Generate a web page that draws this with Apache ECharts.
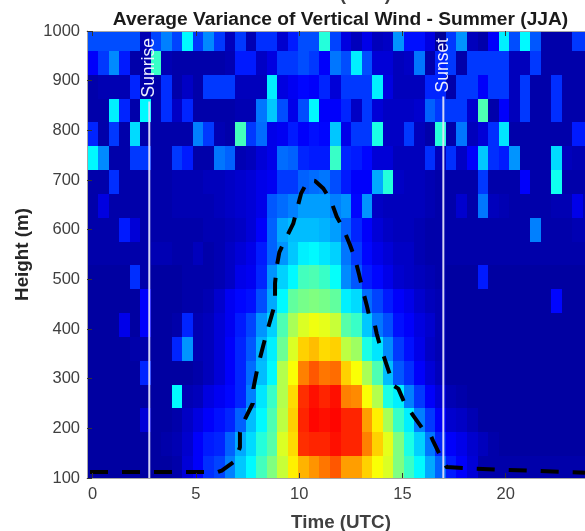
<!DOCTYPE html>
<html>
<head>
<meta charset="utf-8">
<style>
  html, body { margin: 0; padding: 0; background: #fff; }
  #chart { width: 585px; height: 531px; overflow: hidden; }
</style>
<script src="https://cdn.jsdelivr.net/npm/echarts@6/dist/echarts.min.js"></script>
</head>
<body>
<div id="chart"></div>
<script>
const chartTitle = 'Average Variance of Vertical Wind - Summer (JJA)'
const xName = 'Time (UTC)'
const yName = 'Height (m)'
const xTicks = [0, 5, 10, 15, 20]

// row edges in metres, bottom to top
const heightEdges = [100, 144, 192, 240, 288, 336, 384, 432, 480, 528, 576, 624, 672, 720, 768, 816, 864, 912, 960, 1000]
// 48 half hour columns stretched over 0-24 h
const columnCount = 48
const columnStep = 24 / 47

// colour index 0-100 per cell, top row first
const rows = [
  [20,20,20,20,20,4,19,25,19,37,18,26,18,5,18,4,17,17,7,15,20,20,41,19,9,5,10,5,6,27,14,14,9,1,18,27,5,3,12,36,20,37,21,3,3,3,18,18],
  [12,18,26,15,3,3,43,4,3,3,3,3,3,4,15,15,6,9,18,18,20,18,12,24,20,36,20,8,8,5,6,24,3,16,18,3,18,18,18,18,5,5,18,3,3,3,3,3],
  [3,4,4,4,16,3,3,17,3,6,3,18,18,18,5,5,5,36,9,11,13,12,16,8,18,18,18,36,9,5,5,5,16,16,3,18,18,12,18,18,5,18,3,3,17,3,3,3],
  [3,3,36,16,3,37,3,17,6,16,3,3,3,3,4,4,24,32,20,10,20,37,12,12,16,6,18,8,6,6,6,7,22,18,18,18,7,45,3,12,5,18,3,3,17,3,3,3],
  [16,3,18,3,34,3,3,3,3,3,25,18,4,3,44,18,23,10,11,15,12,14,13,32,10,18,18,40,6,6,18,5,3,41,3,24,5,8,17,35,3,3,3,3,3,3,15,15],
  [37,26,3,3,18,18,3,3,18,15,3,3,24,22,4,5,8,10,23,22,16,15,15,43,16,15,13,8,8,5,5,5,17,5,17,6,12,32,17,15,27,3,3,3,34,5,4,4],
  [3,3,17,3,3,3,3,3,4,4,4,5,5,6,7,8,10,11,18,18,22,23,24,20,15,12,12,29,41,6,5,5,4,3,3,3,3,18,3,3,3,12,3,3,39,3,3,3],
  [3,9,3,3,3,3,3,3,4,4,4,4,5,6,7,8,10,21,23,25,28,28,28,25,27,13,27,6,5,5,5,5,4,3,3,7,3,24,5,4,3,3,3,3,4,4,10,4],
  [3,3,3,15,8,3,3,3,3,3,3,4,4,5,6,8,12,22,29,31,31,31,30,28,22,16,12,8,6,5,5,4,3,3,3,3,3,3,3,3,3,3,25,3,3,3,4,4],
  [3,3,3,3,3,3,4,4,3,3,5,3,4,6,8,10,15,22,27,32,36,37,35,33,24,18,13,10,8,6,6,4,3,3,3,3,3,3,3,3,3,3,3,3,3,3,3,3],
  [2,2,2,2,17,3,2,2,2,3,3,3,4,6,10,11,16,27,33,37,44,45,43,38,26,21,15,13,10,7,6,5,4,3,2,2,2,15,2,2,2,2,2,2,2,2,2,2],
  [2,2,2,2,2,12,2,2,2,3,3,4,7,11,13,14,20,29,37,47,49,50,49,47,36,34,23,19,15,12,10,7,5,4,2,2,2,2,2,2,2,2,2,2,13,2,2,2],
  [2,2,2,10,2,12,2,2,3,16,4,5,8,11,15,19,27,33,45,54,59,61,60,57,46,43,32,24,20,14,12,9,7,4,2,2,2,2,2,2,2,2,2,2,2,2,2,2],
  [2,2,2,2,3,3,2,2,16,27,4,5,8,12,16,21,30,36,48,59,67,69,66,67,56,53,40,35,26,18,14,10,6,4,2,2,2,2,2,2,2,2,2,2,2,2,2,2],
  [2,2,2,2,2,16,2,2,2,2,3,5,8,12,16,23,31,37,55,62,75,79,76,77,67,62,54,45,31,21,17,12,8,5,2,2,2,2,2,2,2,2,2,2,2,2,2,2],
  [2,2,2,2,2,2,2,2,37,4,5,9,11,13,16,25,35,43,55,66,83,86,84,86,75,74,62,55,40,36,25,18,12,8,4,3,2,2,2,2,2,2,2,2,2,2,2,2],
  [2,2,2,2,2,8,2,2,3,6,9,12,14,16,22,31,37,45,56,67,84,87,86,87,84,84,72,64,54,43,36,25,18,12,7,6,4,2,2,2,2,2,2,2,2,2,2,2],
  [2,2,2,2,2,2,2,3,4,7,12,15,16,22,29,34,41,46,59,66,83,84,84,86,84,84,75,67,60,50,40,33,24,16,12,10,7,5,3,2,2,2,2,2,2,2,2,2],
  [2,2,2,2,2,2,2,2,3,8,12,17,19,25,32,37,44,50,57,64,70,73,76,79,72,72,67,62,59,50,43,37,29,22,15,12,8,3,3,3,3,3,3,3,3,3,3,3]
]

// mean boundary layer height
const boundaryTime = [-0.13,6.05,6.25,6.89,7.13,7.13,7.38,7.75,7.78,7.94,8.05,8.26,8.46,8.67,8.83,8.83,8.91,9.04,9.35,9.71,9.88,10.09,10.44,10.77,11.17,11.53,11.82,12.14,12.46,12.7,12.91,13.06,13.27,13.43,13.67,13.75,13.91,14.16,14.4,14.56,14.8,15.08,15.53,15.98,16.33,16.49,16.78,17.06,17.14,17.95,19.48,21.02,22.55,23.84]
const boundaryHeight = [112,112,115,134,162,192,219,250,280,313,333,367,397,428,451,492,525,555,582,612,639,673,700,698,683,659,626,602,569,542,508,481,448,419,407,391,367,337,307,286,280,253,225,199,189,174,149,129,122,120,117,115,112.5,110.5]

const sunriseTime = 2.74
const sunriseTop = 858
const sunsetTime = 16.98
const sunsetTop = 868

const jet = ['#00008f', '#0000ff', '#0080ff', '#00ffff', '#80ff80', '#ffff00', '#ff8000', '#ff0000', '#800000']
const inkColor = '#404040'
const fontFamily = '"Liberation Sans", Arial, sans-serif'

const cells = []
rows.forEach((row, r) => {
  const edge = heightEdges.length - 1 - r
  row.forEach((value, c) => {
    const left = (c - 0.5) * columnStep
    cells.push([left, left + columnStep, heightEdges[edge - 1], heightEdges[edge], value])
  })
})
if (cells.length !== columnCount * rows.length) console.warn('bad row length')

function boundaryPoints() {
  return boundaryTime.map((t, i) => [t, boundaryHeight[i]])
}

function solarLine(name, time, top) {
  return {
    type: 'line',
    z: 4,
    symbol: 'none',
    silent: true,
    showSymbol: true,
    lineStyle: { color: 'rgba(222,222,245,0.95)', width: 2 },
    data: [
      [time, 100],
      {
        value: [time, top],
        symbol: 'circle',
        symbolSize: 0.1,
        label: {
          show: true,
          formatter: name,
          rotate: 90,
          position: 'top',
          distance: 4,
          align: 'left',
          verticalAlign: 'middle',
          color: '#eef0ff',
          fontSize: 17.5,
          fontFamily: fontFamily
        }
      }
    ]
  }
}

const xRange = { min: -0.276, max: 23.84 }
const frameLine = { show: true, onZero: false, lineStyle: { color: '#a6a6a6', width: 1 } }
const tickStyle = { length: 5, inside: true, lineStyle: { color: '#333', width: 1 } }

const option = {
  animation: false,
  backgroundColor: '#fff',
  title: [
    {
      text: chartTitle,
      left: 340.5,
      top: 10,
      padding: 0,
      textAlign: 'center',
      textStyle: { fontSize: 19.2, fontWeight: 'bold', color: '#1a1a1a', fontFamily: fontFamily }
    },
    {
      // upper x label, cropped by the edge of the original figure
      text: xName,
      left: 341,
      top: -15,
      padding: 0,
      textAlign: 'center',
      textStyle: { fontSize: 18.8, fontWeight: 'bold', color: inkColor, fontFamily: fontFamily }
    },
    {
      text: xName,
      left: 341,
      top: 513,
      padding: 0,
      textAlign: 'center',
      textStyle: { fontSize: 18.8, fontWeight: 'bold', color: inkColor, fontFamily: fontFamily }
    }
  ],
  grid: { left: 87, right: 0, top: 31, bottom: 53, containLabel: false },
  visualMap: {
    show: false,
    type: 'continuous',
    seriesIndex: 0,
    dimension: 4,
    min: 0,
    max: 100,
    inRange: { color: jet }
  },
  xAxis: [
    {
      type: 'value',
      position: 'bottom',
      ...xRange,
      z: 6,
      splitLine: { show: false },
      axisLine: frameLine,
      axisTick: { ...tickStyle, customValues: xTicks },
      axisLabel: { customValues: xTicks, color: inkColor, fontSize: 16.5, margin: 8, fontFamily: fontFamily }
    },
    {
      type: 'value',
      position: 'top',
      ...xRange,
      z: 6,
      splitLine: { show: false },
      axisLine: frameLine,
      axisTick: { ...tickStyle, customValues: xTicks },
      axisLabel: { show: false }
    }
  ],
  yAxis: {
    type: 'value',
    min: 100,
    max: 1000,
    interval: 100,
    z: 6,
    name: yName,
    nameLocation: 'middle',
    nameGap: 54,
    nameTextStyle: { fontSize: 18.8, fontWeight: 'bold', color: '#262626', fontFamily: fontFamily },
    splitLine: { show: false },
    axisLine: frameLine,
    axisTick: tickStyle,
    axisLabel: { formatter: (v) => String(v), color: inkColor, fontSize: 16.5, margin: 7, fontFamily: fontFamily }
  },
  series: [
    {
      type: 'custom',
      silent: true,
      z: 2,
      clip: true,
      encode: { x: [0, 1], y: [2, 3] },
      data: cells,
      renderItem: (params, api) => {
        const p0 = api.coord([api.value(0), api.value(3)])
        const p1 = api.coord([api.value(1), api.value(2)])
        const x = Math.round(p0[0])
        const y = Math.round(p0[1])
        return {
          type: 'rect',
          shape: { x: x, y: y, width: Math.round(p1[0]) - x, height: Math.round(p1[1]) - y },
          style: { fill: api.visual('color') }
        }
      }
    },
    solarLine('Sunrise', sunriseTime, sunriseTop),
    solarLine('Sunset', sunsetTime, sunsetTop),
    {
      type: 'line',
      z: 5,
      silent: true,
      symbol: 'none',
      lineStyle: { color: '#000', width: 4, type: [18, 14], cap: 'butt', join: 'round' },
      data: boundaryPoints()
    }
  ]
}

const chart = echarts.init(document.getElementById('chart'), null, { renderer: 'canvas' })
chart.setOption(option)
</script>
</body>
</html>
